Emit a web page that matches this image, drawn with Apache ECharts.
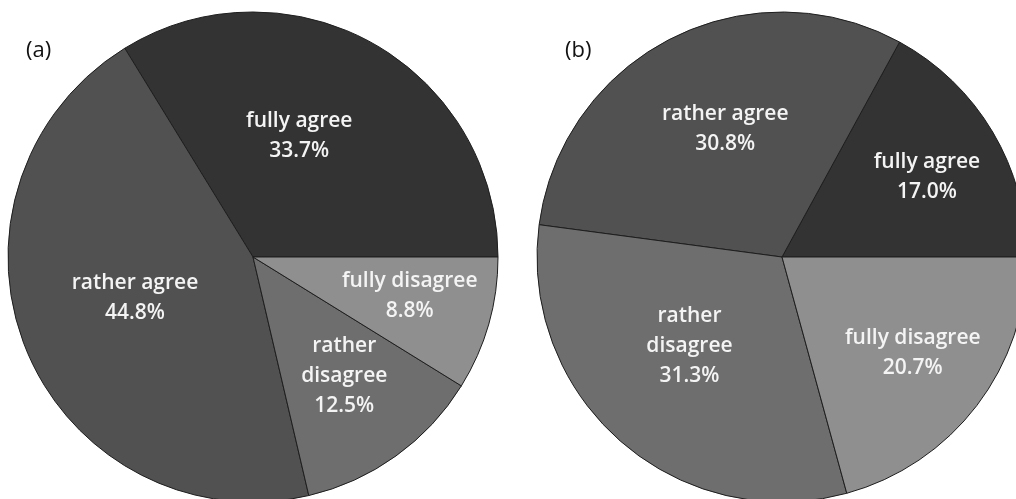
<!DOCTYPE html>
<html>
<head>
<meta charset="utf-8">
<script src="https://cdn.jsdelivr.net/npm/echarts@6/dist/echarts.min.js"></script>
<style>
html,body{margin:0;padding:0;background:#fff;}
#chart{width:1016px;height:499px;}
</style>
</head>
<body>
<div id="chart"></div>
<script>
// ---- data ----
const categories = ['fully agree', 'rather agree', 'rather disagree', 'fully disagree'];
const valuesA = [33.7, 44.8, 12.5, 8.8];
const valuesB = [17.0, 30.8, 31.3, 20.7];
const panelLabels = ['(a)', '(b)'];

// ---- styling (kept separate from data) ----
const sliceColors = ['#333333', '#515151', '#6e6e6e', '#8f8f8f'];
const labelOffsetsA = [[-15, -11], [-2, -7], [18, 17], [36, 5]];
const labelOffsetsB = [[37, -16], [0, -16], [-10, -6], [31, 20]];

function buildData(values, offsets) {
  return categories.map((name, i) => ({
    name: name,
    value: values[i],
    itemStyle: { color: sliceColors[i] },
    label: { offset: offsets[i] }
  }));
}

function fmt(p) {
  const name = p.name === 'rather disagree' ? 'rather\ndisagree' : p.name;
  return name + '\n' + Number(p.value).toFixed(1) + '%';
}

function pieSeries(values, offsets, center) {
  return {
    type: 'pie',
    center: center,
    radius: 245,
    startAngle: 0,
    clockwise: false,
    silent: true,
    animation: false,
    avoidLabelOverlap: false,
    itemStyle: { borderColor: '#1e1e1e', borderWidth: 1 },
    label: {
      show: true,
      position: 'inside',
      formatter: fmt,
      color: '#f4f4f4',
      fontFamily: 'Open Sans',
      fontWeight: 600,
      fontSize: 21,
      lineHeight: 30,
      align: 'center',
      textBorderWidth: 0
    },
    labelLine: { show: false },
    data: buildData(values, offsets)
  };
}

const chart = echarts.init(document.getElementById('chart'), null, { renderer: 'canvas' });
chart.setOption({
  backgroundColor: '#ffffff',
  animation: false,
  graphic: [
    { type: 'text', left: 26, top: 40, style: { text: panelLabels[0], font: '22px "Open Sans"', fill: '#111' } },
    { type: 'text', left: 565, top: 40, style: { text: panelLabels[1], font: '22px "Open Sans"', fill: '#111' } }
  ],
  series: [
    pieSeries(valuesA, labelOffsetsA, [253, 257]),
    pieSeries(valuesB, labelOffsetsB, [782, 257])
  ]
});
</script>
</body>
</html>
